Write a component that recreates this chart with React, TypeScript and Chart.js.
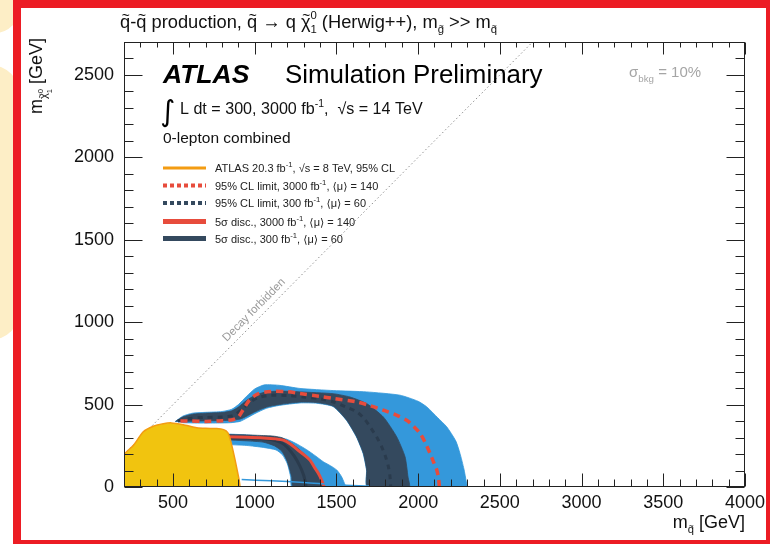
import React, { useEffect, useRef } from 'react';
import { Chart, registerables } from 'chart.js';
Chart.register(...registerables);

const FONT = '"Liberation Sans", "DejaVu Sans", sans-serif';

// ---- axes ----
const xTickValues = [500, 1000, 1500, 2000, 2500, 3000, 3500, 4000];
const yTickValues = [0, 500, 1000, 1500, 2000, 2500];
const xLimits = [200, 4000];
const yLimits = [0, 2700];

type Pt = [number, number];

// ---- curves (m_squark, m_neutralino) in GeV ----
const decayForbidden: Pt[] = [[200, 200], [2700, 2700]];

const atlas8TeV: Pt[] = [
  [200, 0], [200, 194], [257, 252], [318, 335], [379, 369], [440, 384], [491, 389], [563, 378],
  [645, 360], [700, 356], [767, 355], [810, 348], [835, 330], [850, 290], [865, 230], [880, 163],
  [895, 90], [905, 40], [910, 0],
];

const band95_3000: Pt[] = [
  [512, 396], [560, 430], [620, 448], [700, 453], [800, 458], [860, 472], [900, 500], [950, 550],
  [1000, 595], [1060, 620], [1150, 617], [1277, 598], [1481, 585], [1685, 577], [1889, 557], [2000, 520],
  [2053, 486], [2120, 420], [2175, 365], [2230, 280], [2256, 204], [2280, 110], [2295, 30], [2300, 0],
  [1690, 0], [1684, 103], [1663, 204], [1622, 304], [1561, 405], [1479, 488], [1380, 508], [1277, 510],
  [1150, 495], [1073, 478], [1000, 445], [951, 418], [910, 398], [850, 390], [750, 388], [650, 388], [560, 390],
];

const band95_300: Pt[] = [
  [515, 398], [560, 425], [620, 442], [700, 448], [800, 452], [860, 462], [900, 485], [950, 525],
  [1000, 555], [1060, 575], [1150, 582], [1277, 577], [1481, 566], [1583, 546], [1685, 506], [1787, 425],
  [1869, 304], [1920, 183], [1938, 60], [1945, 0],
  [1690, 0], [1685, 103], [1665, 204], [1624, 304], [1563, 405], [1481, 490], [1380, 512], [1277, 515],
  [1150, 500], [1073, 485], [1000, 455], [951, 430], [910, 412], [850, 405], [750, 402], [650, 400], [560, 398],
];

const limit95_300: Pt[] = [
  [530, 400], [600, 415], [700, 422], [800, 425], [870, 435], [920, 470], [970, 515], [1030, 545],
  [1100, 556], [1200, 555], [1300, 546], [1400, 535], [1481, 516], [1560, 485], [1624, 456], [1670, 415],
  [1706, 365], [1745, 305], [1777, 244], [1800, 185], [1818, 123], [1828, 60], [1832, 0],
];

const limit95_3000: Pt[] = [
  [545, 400], [600, 401], [700, 398], [800, 402], [870, 410], [900, 425], [930, 470], [970, 530],
  [1020, 565], [1100, 580], [1200, 578], [1277, 567], [1400, 550], [1481, 537], [1624, 516], [1700, 495],
  [1787, 466], [1870, 435], [1930, 405], [1975, 365], [2012, 325], [2045, 265], [2073, 204], [2095, 150],
  [2114, 103], [2125, 50], [2130, 0],
];

const band5s_3000: Pt[] = [
  [820, 322], [950, 316], [1053, 306], [1150, 298], [1196, 290], [1260, 260], [1318, 226], [1370, 190],
  [1420, 153], [1465, 128], [1502, 103], [1530, 65], [1548, 25], [1555, 0],
  [1228, 0], [1220, 60], [1200, 140], [1170, 195], [1130, 225], [1053, 240], [950, 252], [820, 258],
];

const band5s_300: Pt[] = [
  [820, 318], [950, 316], [1053, 312], [1120, 308], [1170, 298], [1220, 268], [1260, 238], [1300, 203],
  [1338, 166], [1365, 124], [1389, 86], [1405, 45], [1415, 0],
  [1235, 0], [1226, 62], [1210, 120], [1196, 163], [1165, 218], [1120, 250], [1053, 272], [950, 280], [820, 286],
];

const disc5s_300: Pt[] = [
  [820, 300], [1000, 296], [1100, 288], [1160, 270], [1200, 240], [1240, 190], [1275, 130], [1300, 70], [1315, 0],
];

const disc5s_3000: Pt[] = [
  [820, 305], [950, 302], [1053, 298], [1130, 292], [1175, 284], [1220, 260], [1257, 230], [1300, 196],
  [1338, 163], [1365, 120], [1389, 83], [1408, 45], [1420, 15], [1425, 0],
];

const lowEdgeLine: Pt[] = [[920, 45], [1100, 38], [1300, 28], [1500, 14], [1700, 6]];

// ---- texts ----
const legendLabels: [string, string, string][] = [
  ['ATLAS 20.3 fb', '-1', ', \u221As = 8 TeV, 95% CL'],
  ['95% CL limit, 3000 fb', '-1', ', \u27E8\u03BC\u27E9 = 140'],
  ['95% CL limit, 300 fb', '-1', ', \u27E8\u03BC\u27E9 = 60'],
  ['5\u03C3 disc., 3000 fb', '-1', ', \u27E8\u03BC\u27E9 = 140'],
  ['5\u03C3 disc., 300 fb', '-1', ', \u27E8\u03BC\u27E9 = 60'],
];

const C = {
  yellow: '#f1c40f',
  orange: '#f39c12',
  blue: '#3498db',
  navy: '#34495e',
  navyDark: '#2a3b4d',
  red: '#e74c3c',
};

type Part = { t: string; s?: number; dy?: number; adv?: boolean; tilde?: boolean };

function drawRich(
  ctx: CanvasRenderingContext2D,
  parts: Part[],
  x: number,
  y: number,
  size: number,
  opts: { style?: string; color?: string; align?: 'left' | 'right' | 'center' } = {}
) {
  const style = opts.style ?? '';
  const setFont = (fs: number) => {
    ctx.font = `${style} ${fs}px ${FONT}`;
  };
  let total = 0;
  for (const p of parts) {
    setFont(size * (p.s ?? 1));
    const w = ctx.measureText(p.t).width;
    if (p.adv !== false) total += w;
  }
  let cx = opts.align === 'right' ? x - total : opts.align === 'center' ? x - total / 2 : x;
  ctx.fillStyle = opts.color ?? '#111';
  ctx.textAlign = 'left';
  ctx.textBaseline = 'alphabetic';
  for (const p of parts) {
    const fs = size * (p.s ?? 1);
    setFont(fs);
    const py = y + (p.dy ?? 0) * size;
    ctx.fillText(p.t, cx, py);
    const w = ctx.measureText(p.t).width;
    if (p.tilde) {
      ctx.font = `${fs * 0.75}px ${FONT}`;
      const tw = ctx.measureText('~').width;
      ctx.fillText('~', cx + w / 2 - tw / 2 + fs * 0.03, py - fs * 0.42);
      setFont(fs);
    }
    if (p.adv !== false) cx += w;
  }
}

const framePlugin = {
  id: 'atlasFrame',
  afterDatasetsDraw(chart: any) {
    const { ctx, chartArea: a, scales } = chart;
    const xs = scales.x;
    const ys = scales.y;
    ctx.save();
    ctx.strokeStyle = '#222';
    ctx.lineWidth = 1;
    const L = Math.round(a.left) + 0.5;
    const R = Math.round(a.right) - 0.5;
    const T = Math.round(a.top) + 0.5;
    const B = Math.round(a.bottom) - 0.5;
    ctx.strokeRect(L, T, R - L, B - T);
    ctx.beginPath();
    for (let v = xLimits[0]; v <= xLimits[1]; v += 100) {
      const px = Math.round(xs.getPixelForValue(v)) + 0.5;
      const len = v % 500 === 0 ? 13 : 7;
      ctx.moveTo(px, B);
      ctx.lineTo(px, B - len);
      ctx.moveTo(px, T);
      ctx.lineTo(px, T + (v % 500 === 0 ? 12 : 5));
    }
    for (let v = yLimits[0]; v <= yLimits[1]; v += 100) {
      const py = Math.round(ys.getPixelForValue(v)) + 0.5;
      const len = v % 500 === 0 ? 18 : 9;
      ctx.moveTo(L, py);
      ctx.lineTo(L + len, py);
      ctx.moveTo(R, py);
      ctx.lineTo(R - len, py);
    }
    ctx.stroke();
    ctx.restore();
  },
};

const textPlugin = {
  id: 'atlasText',
  afterDraw(chart: any) {
    const { ctx, scales } = chart;
    const xs = scales.x;
    const ys = scales.y;
    ctx.save();

    // top title
    drawRich(
      ctx,
      [
        { t: 'q', tilde: true }, { t: '-' }, { t: 'q', tilde: true }, { t: ' production, ' },
        { t: 'q', tilde: true }, { t: ' \u2192 q ' }, { t: '\u03C7', tilde: true },
        { t: '0', s: 0.62, dy: -0.5, adv: false }, { t: '1', s: 0.62, dy: 0.3 },
        { t: ' (Herwig++), m' }, { t: 'g', s: 0.62, dy: 0.3, tilde: true }, { t: ' >> m' },
        { t: 'q', s: 0.62, dy: 0.3, tilde: true },
      ],
      120, 28, 18.3
    );

    // ATLAS label
    ctx.font = `bold italic 26.5px ${FONT}`;
    ctx.fillStyle = '#000';
    ctx.textBaseline = 'alphabetic';
    ctx.textAlign = 'left';
    ctx.fillText('ATLAS', 163, 83);
    ctx.font = `25.9px ${FONT}`;
    ctx.fillText('Simulation Preliminary', 285, 83);

    // integral line
    ctx.font = `29px "DejaVu Sans", sans-serif`;
    ctx.fillText('\u222B', 160, 121);
    drawRich(ctx, [{ t: 'L dt = 300, 3000 fb' }, { t: '-1', s: 0.65, dy: -0.42 }, { t: ',  \u221As = 14 TeV' }], 180, 114, 16.1);
    drawRich(ctx, [{ t: '0-lepton combined' }], 163, 143, 15.5);

    // sigma bkg
    drawRich(ctx, [{ t: '\u03C3' }, { t: 'bkg', s: 0.65, dy: 0.3 }, { t: ' = 10%' }], 629, 77, 15, { color: '#a5a5a5' });

    // legend
    const rows = [168, 185.5, 203, 221.5, 238.5];
    const sample = [
      { c: C.orange, w: 3, d: [] as number[] },
      { c: C.red, w: 4, d: [4, 3] },
      { c: C.navy, w: 4, d: [4, 3] },
      { c: C.red, w: 5, d: [] as number[] },
      { c: C.navy, w: 5, d: [] as number[] },
    ];
    rows.forEach((ry, i) => {
      ctx.save();
      ctx.strokeStyle = sample[i].c;
      ctx.lineWidth = sample[i].w;
      ctx.setLineDash(sample[i].d);
      ctx.beginPath();
      ctx.moveTo(163, ry);
      ctx.lineTo(206, ry);
      ctx.stroke();
      ctx.restore();
      const [a, sup, b] = legendLabels[i];
      drawRich(ctx, [{ t: a }, { t: sup, s: 0.7, dy: -0.45 }, { t: b }], 215, ry + 4, 11, { color: '#222' });
    });

    // decay forbidden label
    const p1x = xs.getPixelForValue(500), p1y = ys.getPixelForValue(500);
    const p2x = xs.getPixelForValue(1500), p2y = ys.getPixelForValue(1500);
    const ang = Math.atan2(p1y - p2y, p2x - p1x);
    const cxv = xs.getPixelForValue(1035), cyv = ys.getPixelForValue(1035);
    const off = 9;
    const tx = cxv - Math.sin(ang) * off;
    const ty = cyv - Math.cos(ang) * off;
    ctx.save();
    ctx.translate(tx, ty);
    ctx.rotate(-ang);
    ctx.font = `11.5px ${FONT}`;
    ctx.fillStyle = '#9a9a9a';
    ctx.textAlign = 'center';
    ctx.textBaseline = 'middle';
    ctx.fillText('Decay forbidden', 0, 0);
    ctx.restore();

    // x title
    drawRich(ctx, [{ t: 'm' }, { t: 'q', s: 0.62, dy: 0.3, tilde: true }, { t: ' [GeV]' }], 745, 528, 18, { align: 'right' });

    // y title
    ctx.save();
    ctx.translate(42, 38);
    ctx.rotate(-Math.PI / 2);
    drawRich(
      ctx,
      [
        { t: 'm' }, { t: '\u03C7', s: 0.62, dy: 0.3, tilde: true },
        { t: '0', s: 0.42, dy: 0.05, adv: false }, { t: '1', s: 0.42, dy: 0.55 }, { t: ' [GeV]' },
      ],
      0, 0, 18, { align: 'right' }
    );
    ctx.restore();

    ctx.restore();
  },
};

export default function App() {
  const ref = useRef<HTMLCanvasElement>(null);
  useEffect(() => {
    const canvas = ref.current;
    if (!canvas) return;
    const toXY = (pts: Pt[]) => pts.map(([x, y]) => ({ x, y }));
    const band = (pts: Pt[], color: string, order: number, border = color, bw = 0.8) => ({
      data: toXY(pts), showLine: true, fill: 'shape', backgroundColor: color, borderColor: border,
      borderWidth: bw, pointRadius: 0, tension: 0.2, order,
    });
    const line = (pts: Pt[], color: string, width: number, dash: number[], order: number, tension = 0.3) => ({
      data: toXY(pts), showLine: true, fill: false, borderColor: color, borderWidth: width,
      borderDash: dash, pointRadius: 0, tension, order,
    });
    const datasets: any[] = [
      line(decayForbidden, '#8f8f8f', 1, [1.5, 2.5], 20, 0),
      band(band95_3000, C.blue, 19),
      band(band95_300, C.navy, 18),
      line(limit95_300, C.navyDark, 3, [5, 5], 17),
      line(limit95_3000, C.red, 3.5, [7, 5], 16),
      band(band5s_3000, C.blue, 15),
      band(band5s_300, C.navy, 14),
      line(disc5s_300, C.navyDark, 3, [], 13),
      line(disc5s_3000, C.red, 3, [], 12),
      line(lowEdgeLine, C.blue, 1.5, [], 11),
      band(atlas8TeV, C.yellow, 10, C.orange, 1.5),
    ];
    const chart = new Chart(canvas, {
      type: 'scatter',
      data: { datasets },
      options: {
        animation: false,
        responsive: false,
        devicePixelRatio: 1,
        events: [],
        layout: { padding: { top: 42, right: 25, left: 0, bottom: 0 } },
        plugins: { legend: { display: false }, tooltip: { enabled: false }, title: { display: false } },
        scales: {
          x: {
            type: 'linear', min: xLimits[0], max: xLimits[1],
            grid: { display: false, drawTicks: false }, border: { display: false },
            ticks: { font: { family: FONT, size: 18 }, color: '#111', padding: 5, autoSkip: false, maxRotation: 0, callback: (v: any) => String(v) },
            afterBuildTicks: (s: any) => { s.ticks = xTickValues.map((v) => ({ value: v })); },
            afterFit: (s: any) => { s.height = 57; },
          },
          y: {
            type: 'linear', min: yLimits[0], max: yLimits[1],
            grid: { display: false, drawTicks: false }, border: { display: false },
            ticks: { font: { family: FONT, size: 18 }, color: '#111', padding: 10, autoSkip: false, callback: (v: any) => String(v) },
            afterBuildTicks: (s: any) => { s.ticks = yTickValues.map((v) => ({ value: v })); },
            afterFit: (s: any) => { s.width = 124; },
          },
        },
      } as any,
      plugins: [framePlugin, textPlugin],
    });
    return () => chart.destroy();
  }, []);

  return (
    <div style={{ position: 'fixed', left: 0, top: 0, width: 770, height: 544, background: '#fff', overflow: 'hidden' }}>
      <div style={{ position: 'absolute', left: -30, top: -20, width: 50, height: 53, borderRadius: '50%', background: '#fdeec6' }} />
      <div style={{ position: 'absolute', left: -60, top: 65, width: 80, height: 275, borderRadius: 30, background: '#fdeec6' }} />
      <div
        style={{
          position: 'absolute', left: 13, top: 0, width: 757, height: 544, boxSizing: 'border-box',
          borderStyle: 'solid', borderColor: '#ec1c24', borderWidth: '8px 4px 4px 8px', background: '#fff',
        }}
      />
      <canvas ref={ref} width={770} height={544} style={{ position: 'absolute', left: 0, top: 0 }} />
    </div>
  );
}
